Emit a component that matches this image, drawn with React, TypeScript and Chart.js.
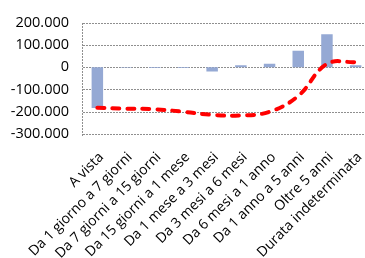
import React, { useEffect, useRef } from "react";
import { Chart, registerables } from "chart.js";

Chart.register(...registerables);

const categories = [
  "A vista",
  "Da 1 giorno a 7 giorni",
  "Da 7 giorni a 15 giorni",
  "Da 15 giorni a 1 mese",
  "Da 1 mese a 3 mesi",
  "Da 3 mesi a 6 mesi",
  "Da 6 mesi a 1 anno",
  "Da 1 anno a 5 anni",
  "Oltre 5 anni",
  "Durata indeterminata",
];

const barValues = [-183000, -2500, -3000, -3500, -19000, 9000, 16000, 74000, 148000, 9000];
const lineValues = [-182000, -186000, -189000, -200000, -214000, -217000, -200000, -129000, 15000, 23000];

const yTickValues = [-300000, -200000, -100000, 0, 100000, 200000];
const yTickLabels = ["-300.000", "-200.000", "-100.000", "0", "100.000", "200.000"];

const dottedGrid = {
  id: "dottedGrid",
  afterLayout: (chart: any) => {
    const xs = chart.scales.x;
    xs.right = 370;
    xs.width = xs.right - xs.left;
    xs.configure();
  },
  beforeDatasetsDraw: (chart: any) => {
    const ctx = chart.ctx;
    const ys = chart.scales.y;
    const area = chart.chartArea;
    const left = Math.round(area.left);
    ctx.save();
    ctx.fillStyle = "#8F8F8F";
    yTickValues.forEach((v) => {
      const y = Math.round(ys.getPixelForValue(v));
      for (let x = left; x < chart.width; x += 3) {
        ctx.fillRect(x, y, 2, 1);
      }
    });
    const top = Math.round(area.top);
    const bottom = Math.round(area.bottom);
    for (let y = top; y <= bottom; y += 3) {
      ctx.fillRect(left - 1, y, 1, 2);
    }
    ctx.restore();
  },
};

export default function App() {
  const ref = useRef<HTMLCanvasElement | null>(null);

  useEffect(() => {
    if (!ref.current) return;
    const chart = new Chart(ref.current, {
      type: "bar",
      data: {
        labels: categories,
        datasets: [
          {
            type: "line",
            data: lineValues,
            borderColor: "#FF0000",
            borderWidth: 4,
            borderDash: [7, 8],
            borderCapStyle: "round",
            tension: 0.4,
            pointRadius: 0,
            fill: false,
            order: 0,
          } as any,
          {
            type: "bar",
            data: barValues,
            backgroundColor: "#95A9D4",
            barPercentage: 0.4,
            categoryPercentage: 1,
            order: 1,
          },
        ],
      },
      options: {
        responsive: false,
        animation: false,
        layout: { padding: { top: 9.6, right: 0, left: 0, bottom: 0 } },
        plugins: { legend: { display: false }, tooltip: { enabled: false } },
        scales: {
          x: {
            grid: { display: false, drawTicks: false },
            border: { display: false },
            ticks: {
              autoSkip: false,
              minRotation: 45,
              maxRotation: 45,
              color: "#000",
              font: { family: "Open Sans", size: 14 },
              padding: 15,
              labelOffset: 4,
            },
            afterFit: (s: any) => {
              s.height = 124;
              s.paddingLeft = 0;
              s.paddingRight = 0;
            },
          },
          y: {
            min: -300000,
            max: 200000,
            afterBuildTicks: (s: any) => {
              s.ticks = yTickValues.map((v) => ({ value: v }));
            },
            grid: { display: false, drawTicks: false },
            border: { display: false },
            ticks: {
              color: "#000",
              font: { family: "Open Sans", size: 14.5 },
              padding: 14,
              callback: (v: any) => {
                const i = yTickValues.indexOf(Number(v));
                return i >= 0 ? yTickLabels[i] : "";
              },
            },
            afterFit: (s: any) => {
              s.width = 83;
            },
          },
        },
      },
      plugins: [dottedGrid],
    });
    return () => chart.destroy();
  }, []);

  return (
    <div style={{ position: "absolute", left: 0, top: 0, width: 365, height: 258 }}>
      <canvas ref={ref} width={365} height={258} style={{ display: "block" }} />
    </div>
  );
}
